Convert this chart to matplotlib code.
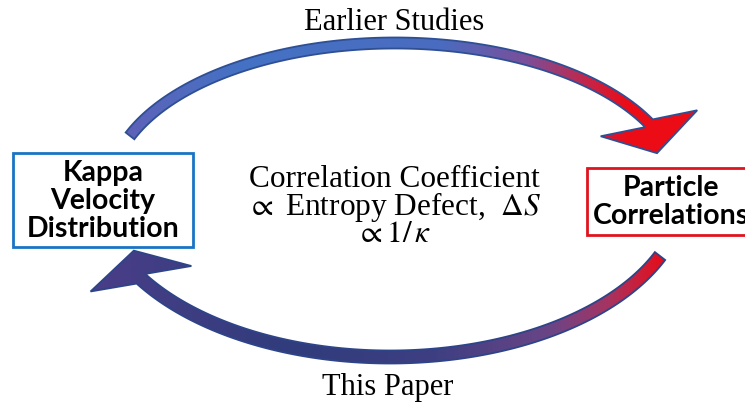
"""
Kappa distribution / particle correlation cycle diagram
"""
import numpy as np
import matplotlib
matplotlib.use("Agg")
import matplotlib.pyplot as plt
from matplotlib.colors import LinearSegmentedColormap
from matplotlib.patches import Polygon, Rectangle

plt.rcParams["mathtext.fontset"] = "stix"

# nodes of the cycle
NODE_LABELS = ["Kappa\nVelocity\nDistribution", "Particle\nCorrelations"]
NODE_XY = [(103, 201), (671, 202)]
NODE_BOX = [(13, 153, 180, 94), (587, 168, 175, 67)]
NODE_EDGE = ["#1A74C4", "#E0141E"]

# arrows: ellipse centre, semi axes, start/end angle (deg), head rotation
ARROW_LABELS = ["Earlier Studies", "This Paper"]
ARROW_LABEL_XY = [(394, 22), (388, 388)]
ARC_CENTRE = [(395, 190), (390, 190)]
ARC_AXES = [(285, 147), (294, -167)]
ARC_ANGLES = [(158.4, 27.0), (23.3, 147.9)]
HEAD_ROT = [30, 34]
HEAD_SIZE = [(31, 50), (29, 52)]
SHAFT_W = [11, 13]
ARC_COLORS = [
    [(0.0, "#5E62B8"), (0.2, "#4472C4"), (0.55, "#4A6CC0"), (0.7, "#7A4F9A"),
     (0.8, "#C0284E"), (0.88, "#EC0C16"), (1.0, "#EC0C16")],
    [(0.0, "#4A3E88"), (0.35, "#303C7C"), (0.6, "#3E3F82"), (0.8, "#6A4586"),
     (0.9, "#A63462"), (1.0, "#E80C18")],
]
ARC_EDGE = ["#2F4F94", "#2E4488"]

CENTRE_LINES = ["Correlation Coefficient",
                r"$\propto$ Entropy Defect,  $\Delta S$",
                r"$\propto 1/\,\kappa$"]
CENTRE_BASE = [187, 215, 242]


def arrow_polygon(centre, axes, angles, rot, width, head):
    cx, cy = centre
    a, b = axes
    head_len, head_w = head
    t = np.radians(np.linspace(angles[0], angles[1], 200))
    x = cx + a * np.cos(t)
    y = cy - b * np.sin(t)
    dx, dy = np.gradient(x), np.gradient(y)
    norm = np.hypot(dx, dy)
    dx, dy = dx / norm, dy / norm
    nx, ny = -dy, dx
    left = np.column_stack([x + nx * width / 2, y + ny * width / 2])
    right = np.column_stack([x - nx * width / 2, y - ny * width / 2])

    ang = np.arctan2(dy[-1], dx[-1]) + np.radians(rot)
    hx, hy = np.cos(ang), np.sin(ang)
    hnx, hny = -hy, hx
    base = np.array([x[-1], y[-1]])
    barb1 = base + head_w * np.array([hnx, hny])
    tip = base + head_len * np.array([hx, hy])
    barb2 = base - head_w * np.array([hnx, hny])
    return np.vstack([left, barb1, tip, barb2, right[::-1]])


fig = plt.figure(figsize=(7.45, 4.03), dpi=100)
ax = fig.add_axes([0, 0, 1, 1])

for i in range(2):
    pts = arrow_polygon(ARC_CENTRE[i], ARC_AXES[i], ARC_ANGLES[i],
                        HEAD_ROT[i], SHAFT_W[i], HEAD_SIZE[i])
    cmap = LinearSegmentedColormap.from_list("arc%d" % i, ARC_COLORS[i])
    x0, x1 = pts[:, 0].min(), pts[:, 0].max()
    y0, y1 = pts[:, 1].min(), pts[:, 1].max()
    grad = np.linspace(0, 1, 256)[None, :]
    im = ax.imshow(grad, cmap=cmap, extent=(x0, x1, y1, y0),
                   aspect="auto", zorder=2, interpolation="bilinear")
    clip = Polygon(pts, closed=True, facecolor="none", edgecolor="none",
                   transform=ax.transData)
    ax.add_patch(clip)
    im.set_clip_path(clip)
    ax.add_patch(Polygon(pts, closed=True, facecolor="none",
                         edgecolor=ARC_EDGE[i], linewidth=1.3, zorder=3,
                         joinstyle="miter"))
    ax.text(*ARROW_LABEL_XY[i], ARROW_LABELS[i], ha="center", va="center",
            fontsize=22, family="Liberation Serif", zorder=4)

for label, (tx, ty), (bx, by, bw, bh), ec in zip(NODE_LABELS, NODE_XY,
                                                 NODE_BOX, NODE_EDGE):
    ax.add_patch(Rectangle((bx, by), bw, bh, facecolor="white",
                           edgecolor=ec, linewidth=2.0, zorder=3))
    ax.text(tx, ty, label, ha="center", va="center", fontsize=20.5,
            fontweight="bold", family="Lato", linespacing=1.1, zorder=4)

for line, y in zip(CENTRE_LINES, CENTRE_BASE):
    ax.text(394, y, line, ha="center", va="baseline", fontsize=22.5,
            family="Liberation Serif", zorder=4)

ax.set_xlim(0, 745)
ax.set_ylim(403, 0)
ax.axis("off")
fig.savefig("out.png", dpi=100)
